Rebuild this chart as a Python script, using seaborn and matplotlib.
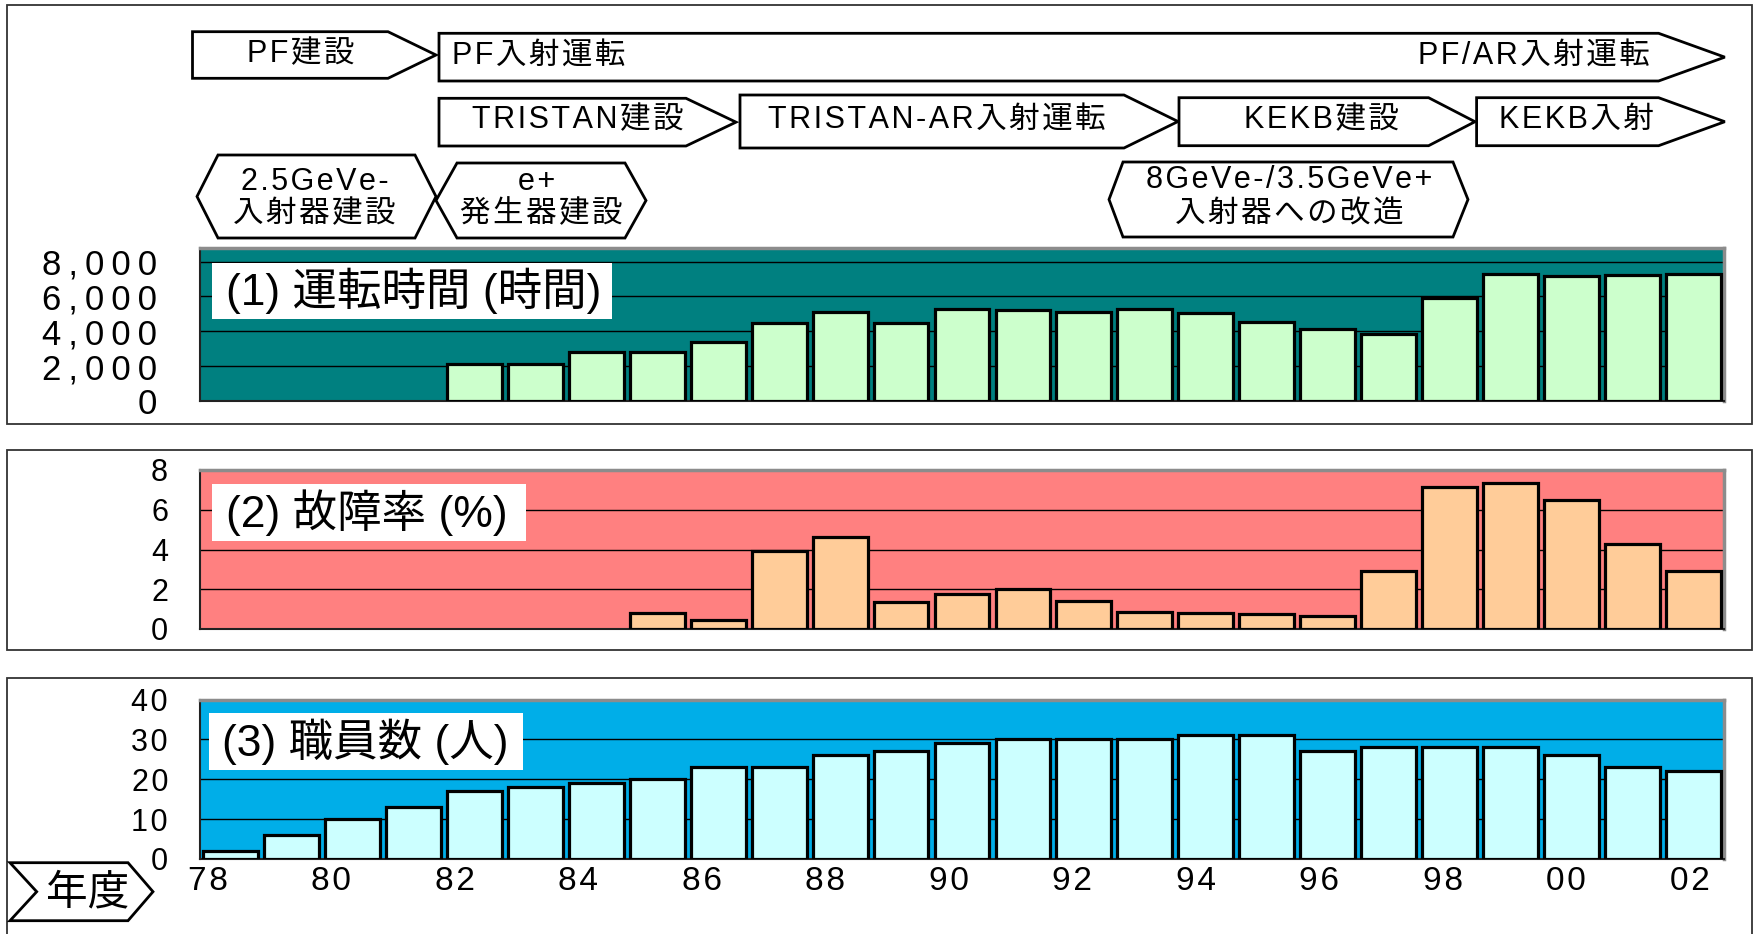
import numpy as np
import pandas as pd
import matplotlib
matplotlib.use("Agg")
import matplotlib.pyplot as plt
import seaborn as sns
from matplotlib.patches import Polygon, Rectangle

# ---------------- data ----------------
years = ["78", "79", "80", "81", "82", "83", "84", "85", "86", "87", "88", "89", "90",
         "91", "92", "93", "94", "95", "96", "97", "98", "99", "00", "01", "02"]
hours = [0, 0, 0, 0, 2100, 2100, 2800, 2800, 3400, 4500, 5100, 4500, 5300,
         5200, 5100, 5300, 5050, 4550, 4150, 3850, 5900, 7300, 7200, 7250, 7300]
failure = [0, 0, 0, 0, 0, 0, 0, 0.8, 0.45, 3.9, 4.65, 1.35, 1.75,
           2.0, 1.4, 0.88, 0.79, 0.75, 0.64, 2.9, 7.15, 7.33, 6.5, 4.3, 2.9]
staff = [2, 6, 10, 13, 17, 18, 19, 20, 23, 23, 26, 27, 29,
         30, 30, 30, 31, 31, 27, 28, 28, 28, 26, 23, 22]
xtick_years = ["78", "80", "82", "84", "86", "88", "90", "92", "94", "96", "98", "00", "02"]

hours_ticks = [0, 2000, 4000, 6000, 8000]
hours_ticklabels = ["0", "2,000", "4,000", "6,000", "8,000"]
failure_ticks = [0, 2, 4, 6, 8]
staff_ticks = [0, 10, 20, 30, 40]

panel_titles = ["(1) 運転時間 (時間)", "(2) 故障率 (%)", "(3) 職員数 (人)"]

df = pd.DataFrame({"year": years, "hours": hours, "failure": failure, "staff": staff})

# ---------------- style ----------------
sns.set_style("white")
FAM = ["Liberation Sans", "DejaVu Sans", "Noto Sans CJK JP"]
plt.rcParams["font.family"] = FAM
plt.rcParams["text.color"] = "black"
plt.rcParams["xtick.color"] = "black"
plt.rcParams["ytick.color"] = "black"
THIN = "\u2009"
HAIR = "\u200a"


def sp(s, gap=HAIR):
    return gap.join(list(s))


W, H = 1761, 934
fig = plt.figure(figsize=(W / 100, H / 100), dpi=100)


def fx(x):
    return x / W


def fy(y):
    return 1 - y / H


def add_axes(top, bottom):
    return fig.add_axes([fx(200), fy(bottom), (1724 - 200) / W, (bottom - top) / H])


ax1 = add_axes(247.7, 401)
ax2 = add_axes(470, 629)
ax3 = add_axes(699.5, 859)

specs = [
    (ax1, "hours", "#008080", "#CCFFCC", 8800, hours_ticks, hours_ticklabels, 25, 31, THIN),
    (ax2, "failure", "#FF8080", "#FFCC99", 8, failure_ticks, [str(t) for t in failure_ticks], 22, 23, HAIR),
    (ax3, "staff", "#00AEE8", "#CCFFFF", 40, staff_ticks, [str(t) for t in staff_ticks], 22, 23, HAIR),
]

for ax, col, bg, fc, ymax, yt, ytl, yfs, ypad, gap in specs:
    sns.barplot(data=df, x="year", y=col, order=years, ax=ax, color=fc,
                edgecolor="black", linewidth=2.3, width=0.9, saturation=1,
                errorbar=None, zorder=3)
    for p in ax.patches:
        if p.get_height() == 0:
            p.set_visible(False)
    ax.set_facecolor(bg)
    ax.set_xlim(-0.5, 24.5)
    ax.set_ylim(0, ymax)
    ax.set_xlabel("")
    ax.set_ylabel("")
    ax.set_yticks(yt)
    ax.set_yticklabels([sp(t, gap) for t in ytl], fontsize=yfs, color="black")
    ax.tick_params(axis="y", which="major", direction="in", length=6, width=1.5,
                   color="#222222", pad=ypad)
    ax.yaxis.grid(True, color="black", linewidth=1.0)
    ax.xaxis.grid(False)
    ax.set_axisbelow(True)
    for s in ("left", "bottom"):
        ax.spines[s].set_color("#222222")
        ax.spines[s].set_linewidth(1.5)
    for s in ("top", "right"):
        ax.spines[s].set_color("#8c8c8c")
        ax.spines[s].set_linewidth(2.5)
    ax.set_xticks(np.arange(0.5, 24, 1), minor=True)
    ax.tick_params(axis="x", which="minor", direction="in", length=4, width=1, color="#222222")
    ax.tick_params(axis="x", which="major", length=0)
    if ax is ax3:
        pos = -0.37 + 1.0129 * np.arange(0, 25, 2)
        ax.set_xticks(pos)
        ax.set_xticklabels([sp(t) for t in xtick_years], fontsize=24, color="black")
        ax.tick_params(axis="x", which="major", pad=5)
    else:
        ax.set_xticks([])

# ---------------- outer frames ----------------
for (t, b) in [(5, 424), (450, 650), (678, 945)]:
    fig.patches.append(Rectangle((fx(7), fy(b)), (1752 - 7) / W, (b - t) / H,
                                 transform=fig.transFigure, fill=False,
                                 edgecolor="#333333", linewidth=1.3, zorder=1))

# ---------------- panel title boxes ----------------
title_boxes = [(212, 263, 612, 319, 226), (212, 484, 526, 541, 226), (209, 713, 523, 770, 222)]
for (x0, y0, x1, y1, tx), title in zip(title_boxes, panel_titles):
    fig.patches.append(Rectangle((fx(x0), fy(y1)), (x1 - x0) / W, (y1 - y0) / H,
                                 transform=fig.transFigure, facecolor="white",
                                 edgecolor="none", zorder=5))
    fig.text(fx(tx), fy((y0 + y1) / 2), title, fontsize=32, ha="left", va="center",
             zorder=6, color="black")


# ---------------- timeline shapes ----------------
def poly(pts):
    fig.patches.append(Polygon([(fx(x), fy(y)) for x, y in pts], closed=True,
                               transform=fig.transFigure, facecolor="white",
                               edgecolor="black", linewidth=2.0, zorder=2))


def arrow(x0, x1, xt, y0, y1):
    ym = (y0 + y1) / 2
    poly([(x0, y0), (x1, y0), (xt, ym), (x1, y1), (x0, y1)])


def hexa(xl, xi, xr_i, xr, y0, y1):
    ym = (y0 + y1) / 2
    poly([(xl, ym), (xi, y0), (xr_i, y0), (xr, ym), (xr_i, y1), (xi, y1)])


arrow(192.5, 388, 436, 31.7, 78.3)
arrow(439, 1658.6, 1724.8, 33.3, 81)
arrow(439, 686, 736, 98.3, 146)
arrow(740, 1124, 1178, 95, 148)
arrow(1179, 1428.6, 1475, 97.7, 145.7)
arrow(1476.6, 1658.6, 1724.8, 97.7, 145.7)
hexa(197, 218, 415, 436, 155, 238)
hexa(436, 457, 625, 646, 163, 238)
hexa(1109, 1123, 1453, 1468, 162, 237)

TFS = 22


def label(x, y, s, ha="center"):
    fig.text(fx(x), fy(y), sp(s), fontsize=TFS, ha=ha, va="center", zorder=6,
             color="black")


label(301, 54, "PF建設")
label(452, 56, "PF入射運転", ha="left")
label(1650, 56, "PF/AR入射運転", ha="right")
label(578, 120, "TRISTAN建設")
label(937, 120, "TRISTAN-AR入射運転")
label(1321, 120, "KEKB建設")
label(1576, 120, "KEKB入射")
label(315, 182, "2.5GeVe-")
label(314, 214, "入射器建設")
label(537, 182, "e+")
label(541, 214, "発生器建設")
label(1289, 180, "8GeVe-/3.5GeVe+")
label(1289, 215, "入射器への改造")

# ---------------- 年度 chevron ----------------
fig.patches.append(Polygon([(fx(x), fy(y)) for x, y in
                            [(10, 862.7), (128, 862.7), (153, 891.7), (128, 920.7),
                             (10, 920.7), (36.7, 891.7)]],
                           closed=True, transform=fig.transFigure, facecolor="white",
                           edgecolor="black", linewidth=2.0, zorder=2))
fig.text(fx(88), fy(893), "年度", fontsize=30, ha="center", va="center", zorder=6,
         color="black")

fig.savefig("out.png", dpi=100)
